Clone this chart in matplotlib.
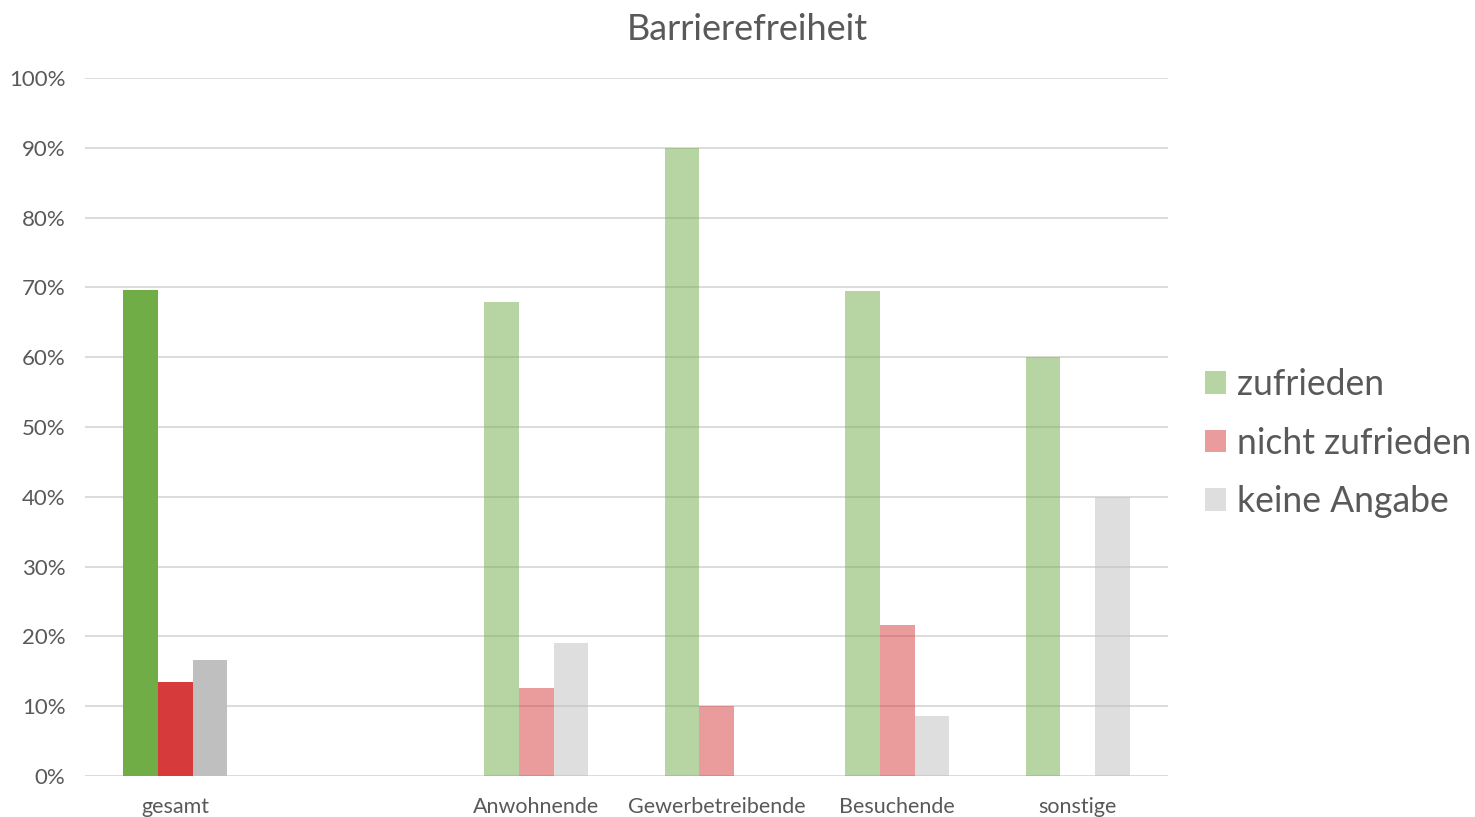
import matplotlib.pyplot as plt
import numpy as np

plt.rcParams['font.family'] = ['Lato', 'DejaVu Sans']

categories = ['gesamt', '', 'Anwohnende', 'Gewerbetreibende', 'Besuchende', 'sonstige']
series = ['zufrieden', 'nicht zufrieden', 'keine Angabe']
zufrieden = [69.6, 0, 67.9, 90.0, 69.5, 60.0]
nicht_zufrieden = [13.5, 0, 12.6, 10.0, 21.6, 0]
keine_angabe = [16.6, 0, 19.0, 0, 8.6, 40.0]

colors = ['#70AD47', '#D63A3A', '#BFBFBF']
text_col = '#595959'

fig = plt.figure(figsize=(14.75, 8.17), dpi=100)
ax = fig.add_axes([85 / 1475, 1 - 776 / 817, (1168 - 85) / 1475, (776 - 78) / 817])

x = np.arange(len(categories))
w = 0.192
values = [zufrieden, nicht_zufrieden, keine_angabe]
for i, (name, vals, col) in enumerate(zip(series, values, colors)):
    # first group ("gesamt") is fully saturated, the rest are faded
    alphas = [1.0] + [0.5] * (len(vals) - 1)
    for j, v in enumerate(vals):
        ax.bar(x[j] + (i - 1) * w, v / 100, width=w, color=col, alpha=alphas[j],
               zorder=3, linewidth=0)

ax.set_xlim(-0.5, len(categories) - 0.5)
ax.set_ylim(0, 1)
ax.set_yticks(np.arange(0, 1.01, 0.1))
ax.set_yticklabels([f'{int(round(t * 100))}%' for t in np.arange(0, 1.01, 0.1)])
ax.set_xticks(x)
ax.set_xticklabels(categories)
ax.tick_params(axis='both', length=0, colors=text_col)
ax.tick_params(axis='x', pad=15, labelsize=15.5)
ax.tick_params(axis='y', pad=14, labelsize=16)
ax.grid(axis='y', color='#D9D9D9', linewidth=1.3, zorder=0)
for s in ax.spines.values():
    s.set_visible(False)

fig.text(747 / 1475, 1 - 30 / 817, 'Barrierefreiheit', ha='center', va='center',
         fontsize=26, color=text_col)

handles = [plt.Rectangle((0, 0), 1, 1, color=c, alpha=0.5, linewidth=0) for c in colors]
fig.legend(handles, series, loc='center left', bbox_to_anchor=(1205 / 1475, 1 - 443 / 817),
           frameon=False, fontsize=25.6, labelcolor=text_col, handlelength=0.6,
           handleheight=0.6, handletextpad=0.3, labelspacing=0.72,
           borderpad=0, borderaxespad=0)

fig.savefig('out.png', dpi=100, facecolor='white')
